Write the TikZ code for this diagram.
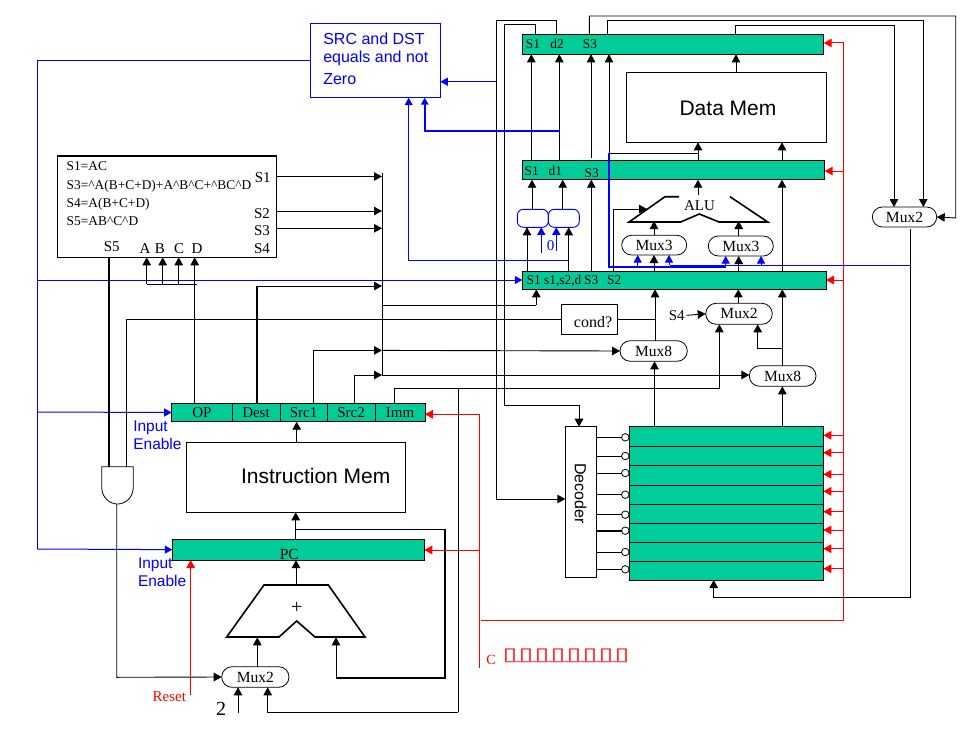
\documentclass[tikz,border=0pt]{standalone}
\usepackage{fontspec}
\usepackage{graphicx}
\setmainfont{Liberation Serif}
\setsansfont{Liberation Sans}
\newfontfamily\symfont{DejaVu Sans}
\usetikzlibrary{arrows.meta,shapes.misc,calc}
\definecolor{teal}{HTML}{00CC99}
\definecolor{dblue}{HTML}{0000CC}
\newcommand{\fsz}[1]{\fontsize{#1}{#1}\selectfont}
% box helper: style, name, x1, y1, x2, y2, text
\newcommand{\bx}[7]{\node[#1,minimum width={(#5-#3)*1pt},minimum height={(#6-#4)*1pt}] (#2) at ({(#3+#5)/2},{(#4+#6)/2}) {#7};}
\newcommand{\tofu}{\makebox[16pt]{\scalebox{1.45}[1]{▯}}}
\tikzset{
  every node/.style={inner sep=0pt,outer sep=0pt,text depth=0pt},
  ln/.style={line width=.9pt,draw=black},
  arr/.style={ln,-{Triangle[length=8pt,width=8.5pt]}},
  thk/.style={line width=2pt,draw=black},
  bln/.style={line width=1pt,draw=blue},
  barr/.style={bln,-{Triangle[length=7.5pt,width=8pt]}},
  bthk/.style={line width=1.6pt,draw=blue},
  rln/.style={line width=1pt,draw=red},
  rarr/.style={rln,-{Triangle[length=8pt,width=8.5pt]}},
  reg/.style={draw=black,fill=teal,line width=1pt,rectangle},
  pl/.style={draw=black,line width=1pt,rectangle},
  mux/.style={draw=black,fill=white,line width=.8pt,rounded rectangle,font=\fsz{15.5}},
  bmux/.style={draw=blue,line width=.9pt,rectangle,rounded corners=6pt},
  lab/.style={font=\fsz{13.4},text=black},
  big/.style={font=\sffamily\fsz{21}},
  blab/.style={font=\sffamily\fsz{15.5},text=blue,anchor=west},
  sig/.style={font=\fsz{15}},
  hole/.style={circle,draw=black,fill=white,line width=.8pt,minimum size=7.5pt},
}
\begin{document}
\begin{tikzpicture}[x=1pt,y=-1pt]
\useasboundingbox (0,0) rectangle (977,733);
% ---- boxes
\bx{reg}{barA}{522.3}{34.7}{823.7}{54.3}{}
\bx{reg}{barB}{522.3}{160.3}{824.7}{179.7}{}
\bx{reg}{barC}{522.3}{271}{826}{289.3}{}
\bx{pl}{dmem}{626.3}{72.3}{826.3}{142.3}{}
\bx{pl}{logic}{57.7}{156}{276}{257.3}{}
\bx{draw=blue,line width=1pt,rectangle}{cmp}{310.3}{23.7}{440.3}{97.7}{}
\bx{pl}{cond}{561}{304.3}{617.3}{334.7}{}
\bx{pl}{imem}{186.7}{442.3}{405}{512.3}{}
\bx{pl}{dec}{565.3}{426.7}{596.7}{577.3}{}
\bx{reg}{pc}{172.3}{539.3}{424.3}{560}{}
\bx{reg}{ir}{171.7}{403.3}{425}{421.7}{}
\bx{reg}{regs}{629}{426.7}{823.3}{580}{}
\foreach \y in {446.3,465.3,485,504.3,523.3,542.3,561.3} \draw[line width=1pt] (629,\y) -- (823.3,\y);
\foreach \x in {232.3,280,327.3,375.7} \draw[line width=1pt] (\x,403.3) -- (\x,421.7);
\bx{mux}{muxT}{872.3}{207}{936.7}{227}{Mux2}
\bx{mux}{muxL}{621.7}{235.3}{686.7}{255}{Mux3}
\bx{mux}{muxR}{708.3}{236}{773.3}{256}{Mux3}
\bx{mux}{muxC}{705.7}{303.3}{772.3}{324.3}{Mux2}
\bx{mux}{mxeL}{620}{340.7}{687.3}{361.3}{Mux8}
\bx{mux}{mxeR}{749.3}{365.7}{816}{386.3}{Mux8}
\bx{mux}{muxP}{221.7}{666.7}{289}{687.3}{Mux2}
\bx{bmux}{cmpL}{517.3}{209.3}{548.3}{227.3}{}
\bx{bmux}{cmpR}{548.3}{209.3}{579.3}{227.3}{}
% ---- ALU, adder, AND gate
\draw[line width=1.6pt,line join=miter] (679,196.7) -- (665,196.7) -- (629,222) -- (680.7,222) -- (699.3,214) -- (719,222) -- (767.7,222) -- (730,196.7);
\draw[line width=1.6pt,line join=miter] (226.7,637) -- (264,585) -- (328.3,585) -- (365,637) -- (315,637) -- (296.7,621) -- (279,637) -- cycle;
\draw[line width=.8pt] (101.7,466.7) -- (133.3,466.7) -- (133.3,487) .. controls (133.3,498) and (125,504) .. (117.5,504) .. controls (110,504) and (101.7,498) .. (101.7,487) -- cycle;
\coordinate (andA) at (109,466.7);
\coordinate (andB) at (126.7,466.7);
\coordinate (andO) at (116.7,504);
% ---- top connectors
\draw[arr] (531.3,0 |- barB.north) -- (531.3,0 |- barA.south);
\draw[arr] (559.3,0 |- barB.north) -- (559.3,0 |- barA.south);
\draw[arr] (591,158) -- (591,0 |- barA.south);
\draw[arr] (736,0 |- dmem.north) -- (736,0 |- barA.south);
\draw[arr] (698,0 |- barB.north) -- (698,0 |- dmem.south);
\draw[arr] (782,0 |- barB.north) -- (782,0 |- dmem.south);
\draw[arr] (698,153.5) -- (609,153.5) -- (609,0 |- barA.south);
\draw[bthk] (609,153.5) -- (609,267) -- (726,267);
\draw[bln] (911,265) -- (670,265);
\draw[arr] (527,0 |- barC.north) -- (527,0 |- cmpL.south);
\draw[arr] (568.7,0 |- barC.north) -- (568.7,0 |- cmpR.south);
\draw[barr] (541.3,253) -- (541.3,0 |- cmpL.south);
\draw[barr] (556.3,251) -- (556.3,0 |- cmpR.south);
\draw[arr] (532,0 |- cmpL.north) -- (532,0 |- barB.south);
\draw[arr] (562.7,0 |- cmpR.north) -- (562.7,0 |- barB.south);
\draw[arr] (591.3,0 |- barC.north) -- (591.3,0 |- barB.south);
\draw[arr] (698,195) -- (698,0 |- barB.south);
\draw[arr] (782,0 |- barC.north) -- (782,0 |- barB.south);
\draw[arr] (613.3,0 |- barC.north) -- (613.3,209) -- (647,209);
\draw[arr] (654,0 |- muxL.north) -- (654,221);
\draw[arr] (738.7,0 |- muxR.north) -- (738.7,221);
\draw[arr] (654,0 |- barC.north) -- (654,0 |- muxL.south);
\draw[arr] (738.7,0 |- barC.north) -- (738.7,0 |- muxR.south);
\draw[barr] (637.7,267) -- (637.7,0 |- muxL.south);
\draw[barr] (669,265) -- (669,0 |- muxL.south);
\draw[barr] (725.7,267) -- (725.7,0 |- muxR.south);
\draw[barr] (761,265) -- (761,0 |- muxR.south);
% ---- long wires above barA
\draw[arr] (535.3,0 |- barA.north) -- (535.3,24.7) -- (504.5,24.7) -- (504.5,405.3) -- (579,405.3) -- (579,0 |- dec.north);
\draw[arr] (556.7,0 |- barA.north) -- (556.7,20.7) -- (496,20.7) -- (496,499) -- (dec.west |- 0,499);
\draw[arr] (589.3,0 |- barA.north) -- (589.3,16) -- (955.7,16) -- (955.7,218) -- (muxT.east);
\draw[arr] (607.3,0 |- barA.north) -- (607.3,20.3) -- (923.3,20.3) -- (923.3,0 |- muxT.north);
\draw[arr] (735.7,0 |- barA.north) -- (735.7,25.3) -- (894,25.3) -- (894,0 |- muxT.north);
\draw[arr] (910.5,229) -- (910.5,597.7) -- (713.7,597.7) -- (713.7,0 |- regs.south);
\draw[line width=1pt,draw=dblue] (cmp.west |- 0,61) -- (37.3,61) -- (37.3,549);
% ---- blue connectors
\draw[barr] (37.3,280) -- (barC.west |- 0,280);
\draw[barr] (37.3,412) -- (ir.west);
\draw[barr] (37.3,549) -- (pc.west);
\draw[barr] (496,81.7) -- (cmp.east |- 0,81.7);
\draw[barr] (568.7,260.7) -- (408.7,260.7) -- (408.7,0 |- cmp.south);
\draw[bthk,-{Triangle[length=7pt,width=7.5pt]}] (559.3,131) -- (424.7,131) -- (424.7,0 |- cmp.south);
% ---- logic outputs and bus
\draw[arr] (logic.east |- 0,176.5) -- (382,176.5);
\draw[arr] (logic.east |- 0,211) -- (382,211);
\draw[arr] (logic.east |- 0,228.3) -- (382,228.3);
\draw[ln,line width=1.1pt] (382.3,173) -- (382.3,375);
\draw[ln] (382.3,305.2) -- (536.3,305.2);
\draw[arr] (536.3,305.2) -- (536.3,0 |- barC.south);
\draw[thk] (257,0 |- ir.north) -- (257,286);
\draw[arr] (256,286) -- (382,286);
\draw[arr] (313,0 |- ir.north) -- (313,350.4) -- (382,350.4);
\draw[arr] (382,350.4) -- (mxeL.west);
\draw[arr] (354.3,0 |- ir.north) -- (354.3,375) -- (382,375);
\draw[arr] (382,375) -- (mxeR.west |- 0,375);
\draw[ln] (394.3,0 |- ir.north) -- (394.3,388) -- (458.3,388);
\draw[arr] (458.3,388) -- (719.3,388) -- (719.3,0 |- muxC.south);
\draw[ln] (458.3,388) -- (458.3,712.3);
\draw[arr] (458.3,712.3) -- (267.7,712.3) -- (267.7,0 |- muxP.south);
\draw[arr] (238,713) -- (238,0 |- muxP.south);
% ---- inputs of logic box
\draw[ln] (146.7,284.3) -- (196.7,284.3);
\draw[arr] (146.7,284.3) -- (146.7,0 |- logic.south);
\draw[arr] (162.7,284.3) -- (162.7,0 |- logic.south);
\draw[arr] (178.7,284.3) -- (178.7,0 |- logic.south);
\draw[arr] (194.7,0 |- ir.north) -- (194.7,0 |- logic.south);
\draw[thk] (109,0 |- logic.south) -- (andA);
\draw[ln] (cond.west |- 0,319.3) -- (126.7,319.3) -- (andB);
\draw[arr] (andO) -- (116.7,677.3) -- (muxP.west);
% ---- cond and muxes
\draw[ln] (cond.east |- 0,319.3) -- (655,319.3);
\draw[arr] (655,0 |- mxeL.north) -- (655,0 |- barC.south);
\draw[arr] (654.5,0 |- regs.north) -- (654.5,0 |- mxeL.south);
\draw[arr] (782.3,0 |- mxeR.north) -- (782.3,0 |- barC.south);
\draw[arr] (782.3,0 |- regs.north) -- (782.3,0 |- mxeR.south);
\draw[arr] (738.3,0 |- muxC.north) -- (738.3,0 |- barC.south);
\draw[arr] (782.3,348.3) -- (757.7,348.3) -- (757.7,0 |- muxC.south);
\draw[arr] (686.7,315.3) -- (muxC.west);
% ---- lower left
\draw[arr] (296.7,0 |- imem.north) -- (296.7,0 |- ir.south);
\draw[arr] (295.7,0 |- pc.north) -- (295.7,0 |- imem.south);
\draw[ln] (295.7,529.3) -- (446,529.3);
\draw[thk,line width=1.8pt] (445,529.3) -- (445,677.7) -- (336,677.7);
\draw[arr] (336,677.7) -- (336,637.3);
\draw[arr] (296,585) -- (296,0 |- pc.south);
\draw[arr] (257.3,0 |- muxP.north) -- (257.3,637.3);
% ---- red
\coordinate (rA) at (479.5,414.3);
\draw[rarr] (190.7,695) -- (190.7,0 |- pc.south);
\draw[rln] (rA) -- (479.5,668);
\draw[rarr] (rA) -- (ir.east |- rA);
\draw[rarr] (479.5,550) -- (pc.east |- 0,550);
\draw[rln] (481,620.3) -- (843.7,620.3) -- (843.7,43);
\draw[rarr] (843.7,43) -- (barA.east |- 0,43);
\draw[rarr] (843.7,171) -- (barB.east |- 0,171);
\draw[rarr] (843.7,280) -- (barC.east |- 0,280);
\foreach \y in {435.3,452.7,474.3,491.3,511.7,530,548.7,568.7} \draw[rarr] (843.7,\y) -- (regs.east |- 0,\y);
% ---- decoder outputs
\foreach \n/\y/\w in {a/437.3/.9,b/456/.9,c/473/.9,d/494.7/.9,e/514.7/.9,f/530.7/1.8,g/552/.9,h/569.3/.9} {
  \node[hole] (o\n) at (625.3,\y) {};
  \draw[line width=\w pt] (dec.east |- o\n) -- (o\n);
}
% ---- text
\node[big] (tDM) at (728,108) {Data Mem};
\node[big] (tIM) at (315.7,476) {Instruction Mem};
\node[font=\sffamily\fsz{16},rotate=-90] (tDec) at (580.7,493.3) {Decoder};
\node[font=\fsz{16}] (tcond) at (593,322) {cond?};
\node[font=\fsz{15}] (tALU) at (699.5,205.7) {ALU};
\node[font=\fsz{15},text=blue] (t0) at (550.7,245.7) {0};
\node[font=\fsz{15.5}] (tPC) at (289.3,554.7) {PC};
\node[font=\fsz{20}] (tplus) at (296.7,608) {+};
\node[font=\fsz{20}] (t2) at (221,709) {2};
\node[font=\fsz{15},text=red] (treset) at (169.3,696.7) {Reset};
\foreach \n/\x/\y/\t in {a/533/44.3/S1,b/557/44.3/d2,c/590/44.3/S3,d/531.7/170.7/S1,e/555.3/170.7/d1,f/591.7/172.6/S3,g/591.3/280/S3,h/614.3/280/S2}
  \node[lab] (bar\n) at (\x,\y) {\t};
\node[lab,anchor=west] (barl) at (526.7,280) {S1 s1,s2,d};
\foreach \n/\x/\t in {a/202/OP,b/256/Dest,c/303.5/Src1,d/351/Src2,e/400/Imm}
  \node[font=\fsz{15}] (f\n) at (\x,412.3) {\t};
\foreach \n/\y/\t in {a/166/{S1=AC},b/185/{S3=\textasciicircum A(B+C+D)+A\textasciicircum B\textasciicircum C+\textasciicircum BC\textasciicircum D},c/203/{S4=A(B+C+D)},d/221/{S5=AB\textasciicircum C\textasciicircum D}}
  \node[lab,anchor=west] (eq\n) at (66.7,\y) {\t};
\foreach \n/\x/\y/\t in {a/262.7/178/S1,b/262/214/S2,c/262/231/S3,d/262/249/S4,e/111.7/247/S5,f/145/249/A,g/160/249/B,h/179/249/C,i/197/249/D,j/676.7/316/S4}
  \node[sig] (s\n) at (\x,\y) {\t};
\node[blab] (in1) at (133.3,426) {Input};
\node[blab] (en1) at (133.3,444) {Enable};
\node[blab] (in2) at (138,563) {Input};
\node[blab] (en2) at (138,581) {Enable};
\node[font=\sffamily\fsz{16},text=blue,anchor=west] (c1) at (323.3,38.3) {SRC and DST};
\node[font=\sffamily\fsz{16},text=blue,anchor=west] (c2) at (323.3,56.7) {equals and not};
\node[font=\sffamily\fsz{16},text=blue,anchor=west] (c3) at (323.3,79) {Zero};
\node[font=\fsz{14},text=red] (tC) at (491,660) {C};
\node[font=\symfont\fsz{18},text=red,anchor=west] (tT) at (502,654.5) {\tofu\tofu\tofu\tofu\tofu\tofu\tofu\tofu};
\draw[line width=.9pt,draw=red!70] (505.5,661.7) -- (627,661.7);
\end{tikzpicture}
\end{document}
